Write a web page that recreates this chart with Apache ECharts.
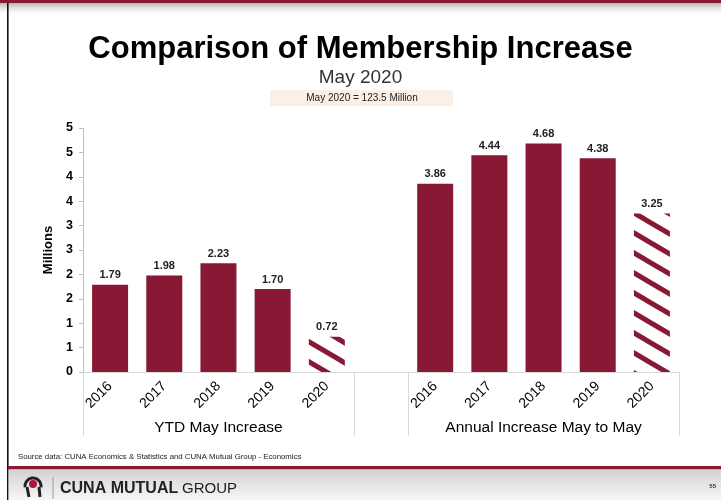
<!DOCTYPE html>
<html>
<head>
<meta charset="utf-8">
<script src="https://cdn.jsdelivr.net/npm/echarts@6/dist/echarts.min.js"></script>
<style>
  html, body { margin: 0; padding: 0; background: #fff; }
  #chart { width: 721px; height: 500px; }
</style>
</head>
<body>
<div id="chart"></div>
<script>
// Membership increase, millions
const years = ['2016', '2017', '2018', '2019', '2020'];
const ytdValues = [1.79, 1.98, 2.23, 1.70, 0.72];
const annualValues = [3.86, 4.44, 4.68, 4.38, 3.25];
const groupNames = ['YTD May Increase', 'Annual Increase May to May'];
const yTicks = { min: 0, max: 5, step: 0.5 };

const MAROON = '#881935';
const FONT = '"Liberation Sans", Arial, sans-serif';

// diagonal stripe tile for the partial-year (2020) bars
function stripeTile() {
  const w = 34, h = 20;
  const c = document.createElement('canvas');
  c.width = w; c.height = h;
  const g = c.getContext('2d');
  g.fillStyle = '#fff';
  g.fillRect(0, 0, w, h);
  g.strokeStyle = MAROON;
  g.lineWidth = 5;
  for (let k = -1; k <= 1; k++) {
    g.beginPath();
    g.moveTo(-w, -h + k * h);
    g.lineTo(2 * w, 2 * h + k * h);
    g.stroke();
  }
  return c;
}
const stripes = { image: stripeTile(), repeat: 'repeat' };

// one slot per bar, with an empty slot separating the two groups
const categories = [...years, '', ...years];
const groupAxis = categories.map(() => '');
groupAxis[2] = groupNames[0];
groupAxis[8] = groupNames[1];

function barItems(values) {
  return values.map((v, i) => {
    const item = { value: v };
    if (years[i] === '2020') item.itemStyle = { color: stripes };
    return item;
  });
}
const barData = [...barItems(ytdValues), { value: null }, ...barItems(annualValues)];

const chart = echarts.init(document.getElementById('chart'), null, { renderer: 'canvas' });

chart.setOption({
  animation: false,
  backgroundColor: '#fff',
  textStyle: { fontFamily: FONT },
  title: {
    text: 'Comparison of Membership Increase',
    subtext: 'May 2020',
    left: 'center',
    top: 29,
    itemGap: 3,
    textStyle: { fontSize: 31, fontWeight: 'bold', color: '#000', fontFamily: FONT },
    subtextStyle: { fontSize: 19, color: '#333', fontFamily: FONT }
  },
  grid: { left: 83, right: 42, top: 128, bottom: 128, containLabel: false },
  xAxis: [
    {
      type: 'category',
      position: 'bottom',
      data: categories,
      axisLine: { show: true, lineStyle: { color: '#d9d9d9', width: 1 } },
      axisTick: { show: false },
      axisLabel: {
        interval: 0,
        rotate: 45,
        margin: 12,
        fontSize: 14,
        color: '#000',
        fontFamily: FONT
      }
    },
    {
      type: 'category',
      position: 'bottom',
      data: groupAxis,
      axisLine: { show: false },
      axisTick: {
        show: true,
        length: 64,
        interval: (i) => i === 0 || i === 5 || i === 6,
        lineStyle: { color: '#d9d9d9', width: 1 }
      },
      axisLabel: {
        interval: 0,
        margin: 48,
        fontSize: 15.5,
        color: '#000',
        fontFamily: FONT,
        verticalAlign: 'top'
      }
    }
  ],
  yAxis: {
    type: 'value',
    min: yTicks.min,
    max: yTicks.max,
    interval: yTicks.step,
    name: 'Millions',
    nameLocation: 'middle',
    nameGap: 27,
    nameRotate: 90,
    nameTextStyle: { fontSize: 13, fontWeight: 'bold', color: '#000', fontFamily: FONT },
    axisLine: { show: true, lineStyle: { color: '#bfbfbf', width: 1 } },
    axisTick: { show: true, length: 4, lineStyle: { color: '#bfbfbf' } },
    splitLine: { show: false },
    axisLabel: {
      margin: 10,
      fontSize: 12.5,
      fontWeight: 'bold',
      color: '#000',
      fontFamily: FONT,
      formatter: (v) => String(Math.round(v))
    }
  },
  series: [
    {
      type: 'bar',
      xAxisIndex: 0,
      data: barData,
      barWidth: 36,
      itemStyle: { color: MAROON },
      label: {
        show: true,
        position: 'top',
        distance: 4,
        fontSize: 11,
        fontWeight: 'bold',
        color: '#222',
        fontFamily: FONT,
        formatter: (p) => (p.value == null ? '' : Number(p.value).toFixed(2))
      }
    }
  ],
  graphic: [
    // top band and its shadow
    { type: 'rect', shape: { x: 0, y: 0, width: 721, height: 3 }, style: { fill: MAROON }, silent: true },
    {
      type: 'rect', shape: { x: 0, y: 3, width: 721, height: 13 }, silent: true,
      style: { fill: new echarts.graphic.LinearGradient(0, 0, 0, 1, [
        { offset: 0, color: '#b5b5b5' }, { offset: 1, color: 'rgba(255,255,255,0)' }]) }
    },
    // left page border
    { type: 'rect', shape: { x: 7, y: 3, width: 1.6, height: 497 }, style: { fill: '#111' }, silent: true },
    // value box under the subtitle
    { type: 'rect', shape: { x: 270, y: 90, width: 183, height: 16 }, style: { fill: '#fcefe6' }, silent: true },
    {
      type: 'text', x: 362, y: 98, silent: true,
      style: { text: 'May 2020 = 123.5 Million', fontSize: 10, fontFamily: FONT, fill: '#222',
               align: 'center', verticalAlign: 'middle' }
    },
    // source note
    {
      type: 'text', x: 18, y: 457, silent: true,
      style: { text: 'Source data: CUNA Economics & Statistics and CUNA Mutual Group - Economics',
               fontSize: 7.8, fontFamily: FONT, fill: '#222', verticalAlign: 'middle' }
    },
    // footer band and shadow
    { type: 'rect', shape: { x: 8, y: 466, width: 713, height: 3.5 }, style: { fill: MAROON }, silent: true },
    {
      type: 'rect', shape: { x: 8.6, y: 469.5, width: 712.4, height: 30.5 }, silent: true,
      style: { fill: new echarts.graphic.LinearGradient(0, 0, 0, 1, [
        { offset: 0, color: '#d2d2d2' }, { offset: 1, color: '#f7f7f7' }]) }
    },
    // logo mark
    { type: 'circle', shape: { cx: 33, cy: 484, r: 4 }, style: { fill: '#b3123a' }, silent: true },
    { type: 'arc', shape: { cx: 33, cy: 486, r: 8, startAngle: Math.PI * 0.95, endAngle: Math.PI * 2.05 },
      style: { stroke: '#222', lineWidth: 3, fill: null }, silent: true },
    { type: 'line', shape: { x1: 27, y1: 487, x2: 29, y2: 497 }, style: { stroke: '#222', lineWidth: 3 }, silent: true },
    { type: 'line', shape: { x1: 39, y1: 487, x2: 40, y2: 497 }, style: { stroke: '#222', lineWidth: 3 }, silent: true },
    { type: 'line', shape: { x1: 53, y1: 477, x2: 53, y2: 499 }, style: { stroke: '#999', lineWidth: 1 }, silent: true },
    {
      type: 'text', x: 60, y: 489, silent: true,
      style: { text: 'CUNA MUTUAL', fontSize: 16, fontWeight: 'bold', fontFamily: FONT, fill: '#222',
               verticalAlign: 'middle' }
    },
    {
      type: 'text', x: 182, y: 489, silent: true,
      style: { text: 'GROUP', fontSize: 15, fontFamily: FONT, fill: '#222', verticalAlign: 'middle' }
    },
    {
      type: 'text', x: 716, y: 486, silent: true,
      style: { text: '55', fontSize: 6, fontWeight: 'bold', fontFamily: FONT, fill: '#333',
               align: 'right', verticalAlign: 'middle' }
    }
  ]
});
</script>
</body>
</html>
